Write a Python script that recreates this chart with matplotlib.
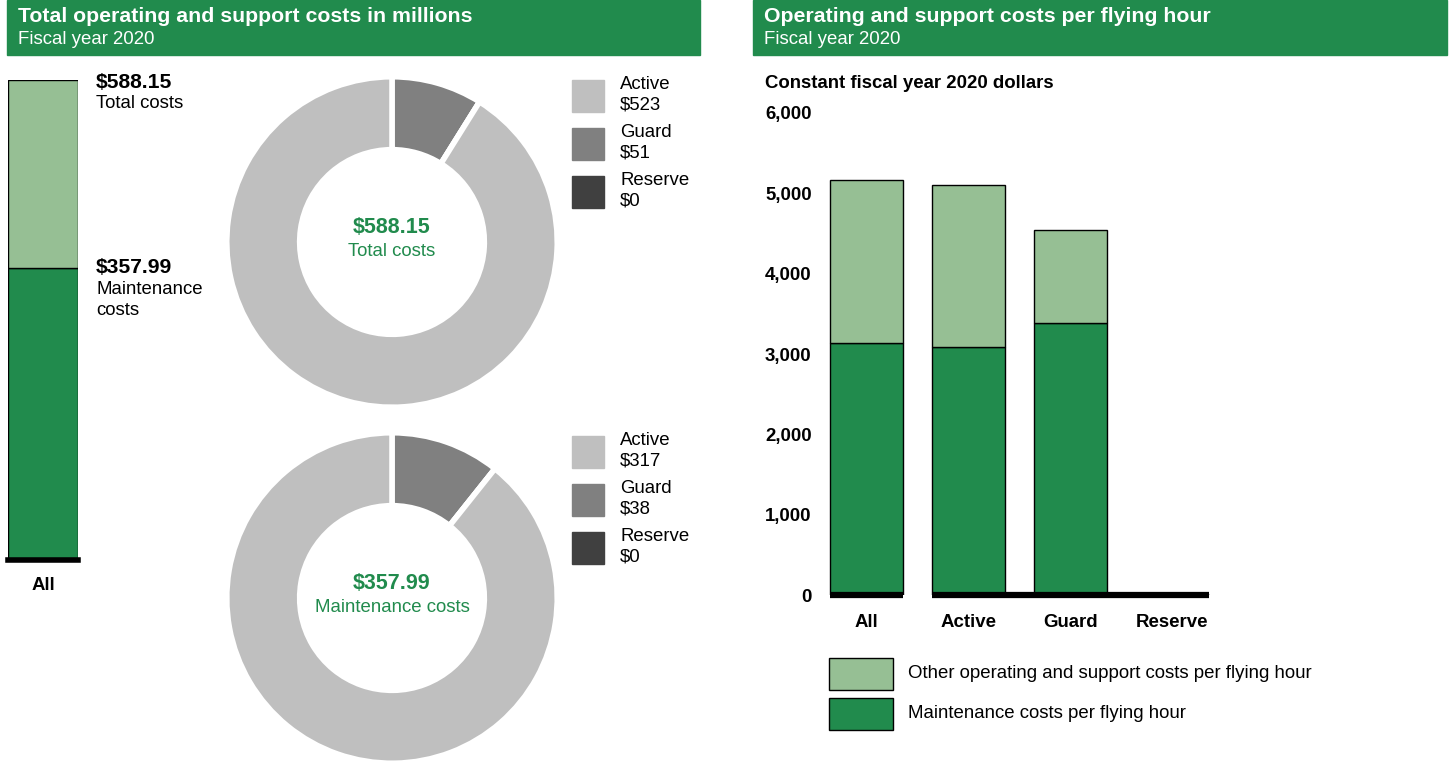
import matplotlib
matplotlib.use('Agg')
import matplotlib.pyplot as plt
from matplotlib.patches import Rectangle
import numpy as np

plt.rcParams['font.family'] = ['Liberation Sans', 'DejaVu Sans']

# ---- data ----
all_total = 588.15
all_maint = 357.99

comp_labels = ['Active', 'Guard', 'Reserve']
total_by_comp = [523, 51, 0]
maint_by_comp = [317, 38, 0]

fh_groups = ['All', 'Active', 'Guard', 'Reserve']
fh_maint = [3140, 3090, 3390, 0]
fh_total = [5160, 5100, 4540, 0]

# ---- colours ----
GREEN = '#218B4D'
LIGHT = '#96BF94'
comp_colors = ['#BFBFBF', '#808080', '#404040']

FS = 13.4
W, H = 1450, 762
fig = plt.figure(figsize=(W / 100, H / 100), dpi=100)


def px(x0, y0, x1, y1):
    return [x0 / W, 1 - y1 / H, (x1 - x0) / W, (y1 - y0) / H]


def ftext(x, y, s, **kw):
    return fig.text(x / W, 1 - y / H, s, **kw)


# ---- header bands ----
for x0, x1, title in [(7, 700, 'Total operating and support costs in millions'),
                      (753, 1447, 'Operating and support costs per flying hour')]:
    fig.patches.append(Rectangle((x0 / W, 1 - 55 / H), (x1 - x0) / W, 55 / H,
                                 transform=fig.transFigure, color=GREEN, zorder=0))
    ftext(x0 + 11, 17, title, color='white', fontsize=15.3, fontweight='bold', va='center')
    ftext(x0 + 11, 39, 'Fiscal year 2020', color='white', fontsize=FS, va='center')

# ---- left stacked bar ----
ax = fig.add_axes(px(8, 80, 78, 560))
ax.bar(0, all_maint, width=1, color=GREEN, edgecolor='black', linewidth=1)
ax.bar(0, all_total - all_maint, bottom=all_maint, width=1, color=LIGHT,
       edgecolor='black', linewidth=1)
ax.axhline(0, color='black', linewidth=4, clip_on=False, zorder=5)
ax.set_xlim(-0.5, 0.5)
ax.set_ylim(0, all_total)
ax.axis('off')
ftext(43, 586, 'All', ha='center', va='center', fontsize=FS, fontweight='bold')
ftext(96, 83, f'${all_total:.2f}', fontsize=15.2, fontweight='bold', va='center')
ftext(96, 104, 'Total costs', fontsize=FS, va='center')
ftext(96, 267, f'${all_maint:.2f}', fontsize=15.2, fontweight='bold', va='center')
ftext(96, 300, 'Maintenance\ncosts', fontsize=FS, va='center', linespacing=1.32)

# ---- donuts ----
for (cy, vals, big, small) in [(242, total_by_comp, all_total, 'Total costs'),
                               (598, maint_by_comp, all_maint, 'Maintenance costs')]:
    dax = fig.add_axes(px(230, cy - 162, 554, cy + 162))
    order = [1, 2, 0]
    dax.pie([vals[i] for i in order], colors=[comp_colors[i] for i in order],
            startangle=90, counterclock=False, radius=1.02,
            wedgeprops=dict(width=0.45, edgecolor='white', linewidth=4))
    dax.set_xlim(-1, 1)
    dax.set_ylim(-1, 1)
    dax.set_aspect('equal')
    dax.text(0, 0.09, f'${big:.2f}', ha='center', va='center', color=GREEN,
             fontsize=15.5, fontweight='bold')
    dax.text(0, -0.06, small, ha='center', va='center', color=GREEN, fontsize=FS)

    # legend
    for k, (lab, v, c) in enumerate(zip(comp_labels, vals, comp_colors)):
        y0 = cy - 162 + k * 48
        fig.patches.append(Rectangle((572 / W, 1 - (y0 + 32) / H), 32 / W, 32 / H,
                                     transform=fig.transFigure, color=c))
        ftext(620, y0 + 15, f'{lab}\n${v}', fontsize=FS, va='center', linespacing=1.25)

# ---- right chart: per flying hour ----
rax = fig.add_axes(px(820, 113, 1218, 595))
x = np.arange(len(fh_groups))
bw = 0.72
other = [t - m for t, m in zip(fh_total, fh_maint)]
rax.bar(x, fh_maint, width=bw, color=GREEN, edgecolor='black', linewidth=1)
rax.bar(x, other, bottom=fh_maint, width=bw, color=LIGHT, edgecolor='black', linewidth=1)
rax.hlines(0, x[0] - bw / 2, x[0] + bw / 2, color='black', linewidth=4.5,
           clip_on=False, zorder=5)
rax.hlines(0, x[1] - bw / 2, x[-1] + bw / 2, color='black', linewidth=4.5,
           clip_on=False, zorder=5)
rax.set_xlim(-0.456, 3.45)
rax.set_ylim(0, 6000)
rax.set_yticks(np.arange(0, 6001, 1000))
rax.set_yticklabels([f'{v:,}' for v in range(0, 6001, 1000)], fontsize=FS,
                    fontweight='bold')
rax.set_xticks(x)
rax.set_xticklabels(fh_groups, fontsize=FS, fontweight='bold')
rax.tick_params(length=0, axis='y', pad=6)
rax.tick_params(length=0, axis='x', pad=14)
for s in rax.spines.values():
    s.set_visible(False)

ftext(765, 83, 'Constant fiscal year 2020 dollars', fontsize=FS,
      fontweight='bold', va='center')

for k, (lab, c) in enumerate([('Other operating and support costs per flying hour', LIGHT),
                              ('Maintenance costs per flying hour', GREEN)]):
    y0 = 658 + k * 40
    fig.patches.append(Rectangle((829 / W, 1 - (y0 + 32) / H), 64 / W, 32 / H,
                                 transform=fig.transFigure, facecolor=c,
                                 edgecolor='black', linewidth=1))
    ftext(908, y0 + 15, lab, fontsize=FS, va='center')

fig.savefig('out.png', dpi=100)
